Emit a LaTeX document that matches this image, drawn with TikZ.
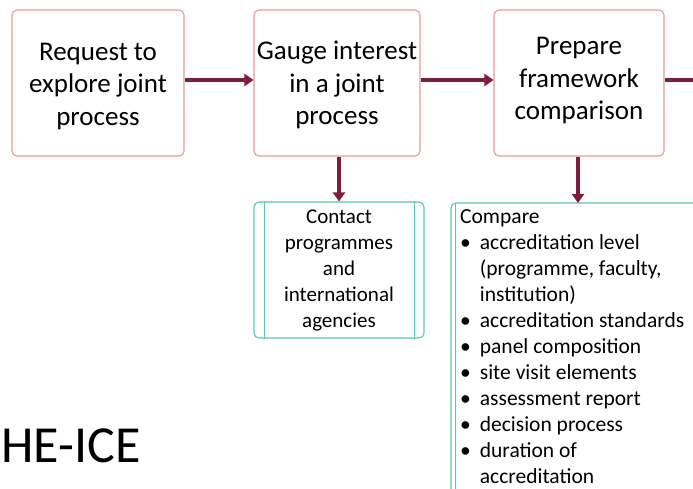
\documentclass[tikz,border=0pt]{standalone}
\usepackage{fontspec}
\setmainfont{Carlito}
\usetikzlibrary{arrows.meta}
\definecolor{boxred}{HTML}{E59A9A}
\definecolor{arrowc}{HTML}{7A1E3A}
\definecolor{teal}{HTML}{5CC6B6}
\begin{document}
\begin{tikzpicture}[x=1pt,y=-1pt,
  stepbox/.style={draw=boxred,line width=1.1pt,rounded corners=5pt,minimum width=172pt,minimum height=146pt,align=center,font=\fontsize{27}{32.5}\selectfont,inner sep=0pt},
  flow/.style={draw=arrowc,line width=3.2pt,-{Triangle[length=9pt,width=12pt]}},
  subbox/.style={draw=teal,line width=1.1pt,rounded corners=5pt},
  sub/.style={draw=teal,line width=0.9pt}]
\useasboundingbox (0,0) rectangle (693,489);
\clip (0,0) rectangle (693,489);
\node[stepbox] (b1) at (98,83) {\begin{tabular}{@{}c@{}}\rule{0pt}{29pt}Request to\\explore joint\\process\end{tabular}};
\node[stepbox,minimum width=166pt] (b2) at (337,83) {\begin{tabular}{@{}c@{}}\rule{0pt}{28pt}Gauge interest\\in a joint\\process\end{tabular}};
\node[stepbox,minimum width=170pt] (b3) at (579,83) {\begin{tabular}{@{}c@{}}Prepare\\framework\\comparison\\[4pt]\end{tabular}};
\coordinate (out) at (700,80);
\draw[flow] (b1.east |- 0,80) -- (b2.west |- 0,80);
\draw[flow] (b2.east |- 0,80) -- (b3.west |- 0,80);
\draw[draw=arrowc,line width=3.2pt] (b3.east |- 0,80) -- (out);
% sub box 1
\node[subbox,minimum width=170pt,minimum height=136pt,inner sep=0pt,align=center,font=\fontsize{21}{26}\selectfont] (c1) at (339,270) {Contact\\programmes\\and\\international\\agencies};
\draw[sub] ([xshift=11pt]c1.north west) -- ([xshift=11pt]c1.south west);
\draw[sub] ([xshift=-10pt]c1.north east) -- ([xshift=-10pt]c1.south east);
\draw[flow] (b2.south -| 339,0) -- (c1.north);
% sub box 2
\coordinate (c2nw) at (451,203);
\coordinate (c2se) at (720,510);
\draw[subbox] (c2nw) rectangle (c2se);
\coordinate (c2top) at (578,203);
\draw[sub] (455,203) -- (455,510);
\draw[flow] (b3.south -| c2top) -- (c2top);
\node[anchor=north west,inner sep=0pt,font=\fontsize{21.5}{26}\selectfont] (list) at (460,205) {%
\begin{tabular}{@{}l@{\hspace{9pt}}l@{}}
\multicolumn{2}{@{}l@{}}{Compare}\\
•& accreditation level\\
 & (programme, faculty,\\
 & institution)\\
•& accreditation standards\\
•& panel composition\\
•& site visit elements\\
•& assessment report\\
•& decision process\\
•& duration of\\
 & accreditation
\end{tabular}};
\node[anchor=west,inner sep=0pt,font=\fontsize{52}{60}\selectfont] (he) at (1,446) {HE-ICE};
\end{tikzpicture}
\end{document}
